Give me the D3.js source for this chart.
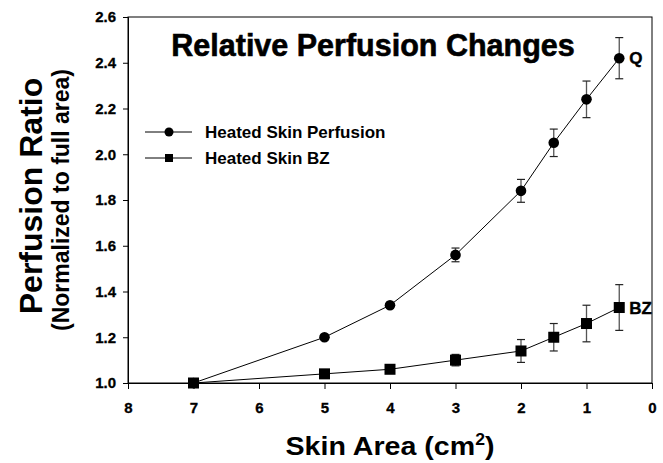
<!DOCTYPE html>
<html lang="en">
<head>
<meta charset="UTF-8">
<title>Relative Perfusion Changes</title>
<script src="https://d3js.org/d3.v7.min.js"></script>
<style>
  body { margin: 0; background: #fff; }
  text { font-family: "Liberation Sans", Arial, sans-serif; font-weight: bold; fill: #000; }
</style>
</head>
<body>
<div id="chart"></div>
<script>
// skin area (cm2) for each measurement
const areas = [7, 5, 4, 3, 2, 1.5, 1, 0.5];
// heated skin perfusion ratio and its error
const perfusion = [1.00, 1.20, 1.34, 1.56, 1.84, 2.05, 2.24, 2.42];
const perfusionErr = [0, 0.01, 0.012, 0.03, 0.05, 0.06, 0.08, 0.09];
// heated skin BZ ratio and its error
const bz = [1.00, 1.04, 1.06, 1.10, 1.14, 1.20, 1.26, 1.33];
const bzErr = [0, 0.005, 0.005, 0.025, 0.05, 0.06, 0.08, 0.10];

const xTicks = [8, 7, 6, 5, 4, 3, 2, 1, 0];
const yTicks = [1.0, 1.2, 1.4, 1.6, 1.8, 2.0, 2.2, 2.4, 2.6];

const W = 663, H = 463;
const margin = { top: 17, right: 11, bottom: 80, left: 128 };
const width = W - margin.left - margin.right,
      height = H - margin.top - margin.bottom;

const svg = d3.select("#chart").append("svg")
    .attr("width", W).attr("height", H);
const g = svg.append("g")
    .attr("transform", `translate(${margin.left},${margin.top})`);

const x = d3.scaleLinear().domain([8, 0]).range([0, width]);
const y = d3.scaleLinear().domain([1.0, 2.6]).range([height, 0]);

// frame
g.append("rect")
    .attr("width", width).attr("height", height)
    .attr("fill", "none").attr("stroke", "#000").attr("stroke-width", 1);

// axes
const xAxis = g.append("g")
    .attr("transform", `translate(0,${height})`)
    .call(d3.axisBottom(x).tickValues(xTicks).tickFormat(d3.format("d")).tickSizeOuter(0).tickSize(6).tickPadding(13));
const yAxis = g.append("g")
    .call(d3.axisLeft(y).tickValues(yTicks).tickFormat(d3.format(".1f")).tickSizeOuter(0).tickSize(5).tickPadding(7));
[xAxis, yAxis].forEach(a => {
    a.selectAll("text").style("font-size", "15px").attr("fill", "#000")
        .attr("stroke", "#000").attr("stroke-width", 0.3);
    a.selectAll("line, path").attr("stroke", "#000");
});

const series = [
    { vals: perfusion, err: perfusionErr, shape: "circle", tag: "Q" },
    { vals: bz, err: bzErr, shape: "square", tag: "BZ" }
];

const line = d3.line().x(d => x(d.a)).y(d => y(d.v));

series.forEach(s => {
    const pts = areas.map((a, i) => ({ a, v: s.vals[i], e: s.err[i] }));

    g.append("path").datum(pts)
        .attr("fill", "none").attr("stroke", "#000").attr("stroke-width", 1)
        .attr("d", line);

    // error bars
    const eb = g.append("g").selectAll("g").data(pts.filter(d => d.e > 0)).enter().append("g");
    eb.append("line")
        .attr("x1", d => x(d.a)).attr("x2", d => x(d.a))
        .attr("y1", d => y(d.v + d.e)).attr("y2", d => y(d.v - d.e))
        .attr("stroke", "#555").attr("stroke-width", 1.3);
    [1, -1].forEach(sign => {
        eb.append("line")
            .attr("x1", d => x(d.a) - 4).attr("x2", d => x(d.a) + 4)
            .attr("y1", d => y(d.v + sign * d.e)).attr("y2", d => y(d.v + sign * d.e))
            .attr("stroke", "#222").attr("stroke-width", 1.2);
    });

    // markers
    if (s.shape === "circle") {
        g.selectAll(null).data(pts).enter().append("circle")
            .attr("cx", d => x(d.a)).attr("cy", d => y(d.v)).attr("r", 5.3).attr("fill", "#000");
    } else {
        g.selectAll(null).data(pts).enter().append("rect")
            .attr("x", d => x(d.a) - 5.5).attr("y", d => y(d.v) - 5.5)
            .attr("width", 11).attr("height", 11).attr("fill", "#000");
    }

    // end tag
    const last = pts[pts.length - 1];
    g.append("text")
        .attr("x", x(last.a) + 10).attr("y", y(last.v) + 6)
        .style("font-size", "17px")
        .attr("stroke", "#000").attr("stroke-width", 0.4)
        .text(s.tag);
});

// title
g.append("text")
    .attr("x", 245).attr("y", 39)
    .attr("text-anchor", "middle")
    .style("font-size", "30.5px")
    .attr("stroke", "#000").attr("stroke-width", 0.6)
    .text("Relative Perfusion Changes");

// legend
const legendItems = [
    { name: "Heated Skin Perfusion", shape: "circle" },
    { name: "Heated Skin BZ", shape: "square" }
];
const legend = svg.append("g").attr("transform", "translate(145,132)");
legendItems.forEach((it, i) => {
    const row = legend.append("g").attr("transform", `translate(0,${i * 26})`);
    row.append("line").attr("x1", 0).attr("x2", 47).attr("y1", 0).attr("y2", 0)
        .attr("stroke", "#000").attr("stroke-width", 1);
    if (it.shape === "circle") {
        row.append("circle").attr("cx", 24).attr("cy", 0).attr("r", 4.5).attr("fill", "#000");
    } else {
        row.append("rect").attr("x", 20).attr("y", -4).attr("width", 8).attr("height", 8).attr("fill", "#000");
    }
    row.append("text").attr("x", 60).attr("y", 6)
        .style("font-size", "17px")
        .text(it.name);
});

// axis titles
svg.append("text")
    .attr("transform", "translate(42,196) rotate(-90)")
    .attr("text-anchor", "middle")
    .style("font-size", "32px")
    .text("Perfusion Ratio");
svg.append("text")
    .attr("transform", "translate(69,200) rotate(-90)")
    .attr("text-anchor", "middle")
    .style("font-size", "23px")
    .text("(Normalized to full area)");

const xt = svg.append("g")
    .attr("transform", `translate(${margin.left + width / 2},455) scale(1.1,1)`)
    .append("text")
    .attr("text-anchor", "middle")
    .style("font-size", "26px");
xt.append("tspan").text("Skin Area (cm");
xt.append("tspan").attr("dy", -10).style("font-size", "16px").text("2");
xt.append("tspan").attr("dy", 10).text(")");
</script>
</body>
</html>
